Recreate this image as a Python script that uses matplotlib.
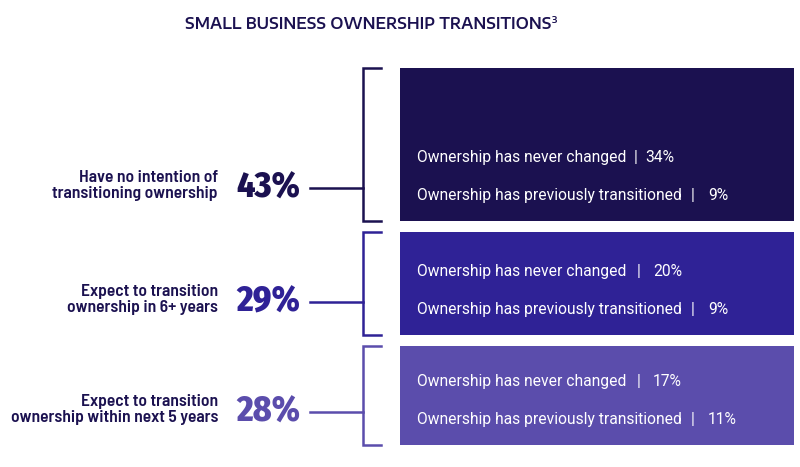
import matplotlib.pyplot as plt
from matplotlib.patches import Rectangle

# data
groups = [["Have no intention of", "transitioning ownership"],
          ["Expect to transition", "ownership in 6+ years"],
          ["Expect to transition", "ownership within next 5 years"]]
totals = [43, 29, 28]
never_changed = [34, 20, 17]
prev_transitioned = [9, 9, 11]
line_labels = ["Ownership has never changed", "Ownership has previously transitioned"]
colors = ["#1b1150", "#2f2296", "#5b4dac"]

title = "SMALL BUSINESS OWNERSHIP TRANSITIONS"
footnote = "3"
navy = "#1b1150"

fig = plt.figure(figsize=(8, 4.67), dpi=100)
ax = fig.add_axes([0, 0, 1, 1])
ax.set_xlim(0, 800)
ax.set_ylim(467, 0)
ax.axis("off")

big_font = ["Fira Sans Condensed", "DejaVu Sans"]
label_font = ["Barlow Semi Condensed", "DejaVu Sans"]
box_font = ["Roboto", "DejaVu Sans"]
title_font = ["Encode Sans Expanded", "DejaVu Sans"]

ax.text(551, 29, title, ha="right", va="baseline", fontsize=10.9,
        fontweight="semibold", color=navy, family=title_font)
ax.text(552, 23, footnote, ha="left", va="baseline", fontsize=6.5,
        fontweight="semibold", color=navy, family=title_font)

scale = 3.55  # px per percent
gap = 11
top = 68
box_x0, box_x1 = 400, 794
pipe1_x = [636, 639, 639]
pct1_x = [645, 653, 653]
fs = 11.25
for i, g in enumerate(groups):
    h = totals[i] * scale
    bottom = top + h
    c = colors[i]
    ax.add_patch(Rectangle((box_x0, top), box_x1 - box_x0, h, color=c, lw=0))

    # bracket + connector
    ax.plot([381, 363, 363, 381], [top, top, bottom, bottom], color=c, lw=1.8,
            solid_joinstyle="miter")
    yc = bottom - 33
    ax.plot([310, 363], [yc, yc], color=c, lw=1.8)

    ax.text(300, yc + 9.5, f"{totals[i]}%", ha="right", va="baseline", fontsize=25.5,
            fontweight="heavy", color=c, family=big_font)
    ax.text(218, yc - 6, g[0], ha="right", va="baseline", fontsize=12.6,
            fontweight="semibold", color=navy, family=label_font)
    ax.text(218, yc + 10, g[1], ha="right", va="baseline", fontsize=12.6,
            fontweight="semibold", color=navy, family=label_font)

    y1 = bottom - 59
    y2 = bottom - 21
    ax.text(417, y1, line_labels[0], ha="left", va="baseline", fontsize=fs,
            color="white", family=box_font)
    ax.text(pipe1_x[i], y1, "|", ha="center", va="baseline", fontsize=fs,
            color="white", family=box_font)
    ax.text(pct1_x[i], y1, f"{never_changed[i]}%", ha="left", va="baseline", fontsize=fs,
            color="white", family=box_font)
    ax.text(417, y2, line_labels[1], ha="left", va="baseline", fontsize=fs,
            color="white", family=box_font)
    ax.text(693, y2, "|", ha="center", va="baseline", fontsize=fs,
            color="white", family=box_font)
    ax.text(708, y2, f"{prev_transitioned[i]}%", ha="left", va="baseline", fontsize=fs,
            color="white", family=box_font)
    top = bottom + gap

fig.savefig("out.png", dpi=100, facecolor="white")
